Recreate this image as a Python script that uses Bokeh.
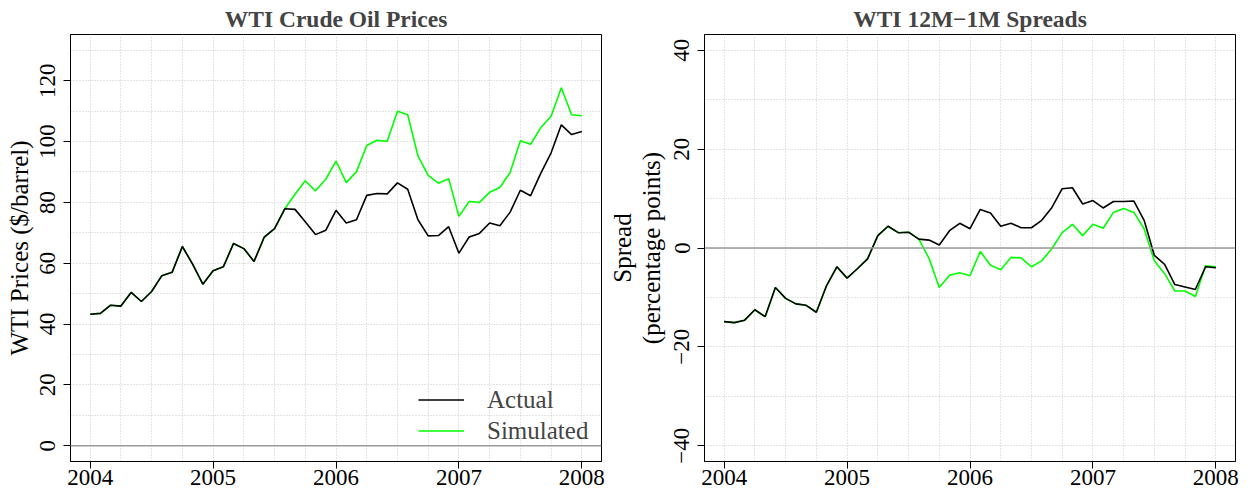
from bokeh.plotting import figure
from bokeh.layouts import row
from bokeh.models import FixedTicker, Span, Legend, LegendItem, Range1d
from bokeh.embed import file_html
from bokeh.resources import INLINE
import pandas as pd

# ---------------- data ----------------
months = pd.period_range("2004-01", "2008-01", freq="M")
x_years = [m.year + (m.month - 1) / 12.0 for m in months]

price_actual = [43.2, 43.5, 46.2, 45.9, 50.4, 47.4, 50.7, 55.9, 57.0, 65.5, 59.7, 53.1,
                57.5, 58.8, 66.5, 64.8, 60.6, 68.6, 71.4, 77.9, 77.7, 73.6, 69.4, 70.8,
                77.4, 73.2, 74.3, 82.3, 82.9, 82.8, 86.4, 84.3, 74.3, 69.0, 69.1, 72.0,
                63.3, 68.6, 69.8, 73.2, 72.3, 76.8, 84.0, 82.2, 89.6, 96.3, 105.5, 102.3,
                103.3]
price_sim = [43.2, 43.5, 46.2, 45.9, 50.4, 47.4, 50.7, 55.9, 57.0, 65.5, 59.7, 53.1,
             57.5, 58.8, 66.5, 64.8, 60.6, 68.6, 71.4, 77.9, 82.7, 87.1, 83.8, 87.6,
             93.6, 86.5, 90.1, 98.7, 100.4, 100.1, 110.0, 108.8, 95.3, 88.9, 86.3, 87.8,
             75.4, 80.3, 80.0, 83.3, 84.9, 89.8, 100.3, 99.1, 104.6, 108.3, 117.7, 108.8,
             108.5]

spread_actual = [-14.9, -15.1, -14.6, -12.5, -13.9, -8.0, -10.2, -11.3, -11.6, -13.0, -7.6, -3.8,
                 -6.1, -4.2, -2.2, 2.5, 4.4, 3.1, 3.2, 1.8, 1.6, 0.6, 3.5, 5.0,
                 3.9, 7.8, 7.1, 4.4, 5.0, 4.1, 4.1, 5.6, 8.2, 12.0, 12.2, 8.9,
                 9.6, 8.1, 9.4, 9.4, 9.5, 5.6, -1.5, -3.3, -7.4, -7.9, -8.4, -3.8,
                 -4.0]
spread_sim = [-14.9, -15.1, -14.6, -12.5, -13.9, -8.0, -10.2, -11.3, -11.6, -13.0, -7.6, -3.8,
              -6.1, -4.2, -2.2, 2.5, 4.4, 3.1, 3.2, 1.8, -2.1, -8.0, -5.5, -5.0,
              -5.6, -0.7, -3.5, -4.4, -1.9, -2.0, -3.8, -2.6, -0.1, 3.1, 4.8, 2.5,
              4.8, 4.0, 7.2, 8.0, 7.2, 3.9, -2.6, -5.2, -8.7, -8.7, -9.8, -3.6,
              -3.8]

year_ticks = [2004, 2005, 2006, 2007, 2008]
quarter_grid = [2004 + q / 4.0 for q in range(17)]
price_ticks = [0, 20, 40, 60, 80, 100, 120]
price_grid = list(range(0, 131, 10))
spread_ticks = [-40, -20, 0, 20, 40]
spread_grid = list(range(-40, 41, 10))

titles = ["WTI Crude Oil Prices", "WTI 12M\u22121M Spreads"]
ylabels = ["WTI Prices ($/barrel)", "Spread\n(percentage points)"]
legend_labels = ["Actual", "Simulated"]

FONT = "Liberation Serif"
GREEN = "#00ff00"
H = 492


def style(p, yticks, ygrid, title, label_standoff):
    p.title.text = title
    p.title.text_font = FONT
    p.title.text_font_style = "bold"
    p.title.text_font_size = "23.5px"
    p.title.align = "center"
    p.title.standoff = 6
    p.outline_line_color = "black"
    p.outline_line_width = 1
    p.background_fill_color = "white"
    p.border_fill_color = "white"
    for ax in (p.xaxis[0], p.yaxis[0]):
        ax.axis_line_color = "black"
        ax.major_tick_line_color = "black"
        ax.major_tick_out = 7
        ax.major_tick_in = 0
        ax.minor_tick_line_color = None
        ax.major_label_text_font = FONT
        ax.major_label_text_font_size = "23px"
        ax.major_label_text_color = "black"
        ax.axis_label_text_font = FONT
        ax.axis_label_text_font_size = "25px"
        ax.axis_label_text_font_style = "normal"
        ax.axis_label_text_color = "black"
    p.xaxis.ticker = FixedTicker(ticks=year_ticks)
    p.xaxis.major_label_standoff = 1
    p.yaxis.ticker = FixedTicker(ticks=yticks)
    p.yaxis.major_label_orientation = "vertical"
    p.yaxis.major_label_standoff = 8
    p.yaxis.axis_label_standoff = label_standoff
    p.yaxis.axis_label_text_line_height = 1.05
    p.yaxis.major_label_overrides = {t: str(t).replace("-", "\u2212") for t in yticks if t < 0}
    p.xgrid.ticker = FixedTicker(ticks=quarter_grid)
    p.ygrid.ticker = FixedTicker(ticks=ygrid)
    for g in (p.xgrid[0], p.ygrid[0]):
        g.grid_line_color = "#c8c8c8"
        g.grid_line_dash = "1 2"
        g.grid_line_width = 1
    p.add_layout(Span(location=0, dimension="width", line_color="#9a9a9a", line_width=1.5))


p1 = figure(width=606, height=H, output_backend="svg", toolbar_location=None,
            x_range=Range1d(2003.84, 2008.16), y_range=Range1d(-5.2, 135.2),
            min_border_left=70, min_border_right=5, min_border_top=31, min_border_bottom=31)
style(p1, price_ticks, price_grid, titles[0], 5)
p1.yaxis.axis_label = ylabels[0]
r_sim = p1.line(x_years, price_sim, line_color=GREEN, line_width=1.6)
r_act = p1.line(x_years, price_actual, line_color="black", line_width=1.6)
legend = Legend(items=[LegendItem(label=legend_labels[0], renderers=[r_act]),
                       LegendItem(label=legend_labels[1], renderers=[r_sim])],
                location=(348, 15), orientation="vertical",
                border_line_color=None, background_fill_alpha=0,
                label_text_font=FONT, label_text_font_size="25px",
                glyph_width=46, glyph_height=31, label_height=31, label_standoff=23,
                spacing=0, padding=0, margin=0)
p1.add_layout(legend)

p2 = figure(width=641, height=H, output_backend="svg", toolbar_location=None,
            x_range=Range1d(2003.84, 2008.16), y_range=Range1d(-43.2, 43.2),
            min_border_left=97, min_border_right=12, min_border_top=31, min_border_bottom=31)
style(p2, spread_ticks, spread_grid, titles[1], 7)
p2.yaxis.axis_label = ylabels[1]
p2.line(x_years, spread_sim, line_color=GREEN, line_width=1.6)
p2.line(x_years, spread_actual, line_color="black", line_width=1.6)

layout = row(p1, p2)
open("out.html", "w").write(file_html(layout, INLINE))
